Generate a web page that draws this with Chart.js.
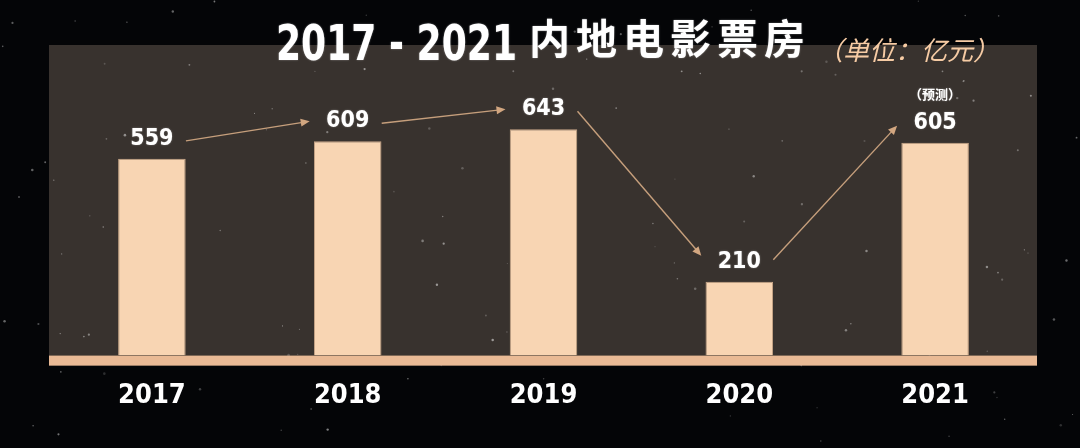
<!DOCTYPE html>
<html><head><meta charset="utf-8">
<script src="https://cdn.jsdelivr.net/npm/chart.js@4/dist/chart.umd.min.js"></script>
<style>html,body{margin:0;padding:0;background:#040507;overflow:hidden}#wrap{width:1080px;height:448px;position:relative}</style>
</head><body><div id="wrap"><canvas id="c" width="1080" height="448"></canvas></div>
<script>
const categories = ['2017', '2018', '2019', '2020', '2021'];
const boxOffice = [559, 609, 643, 210, 605];
const valueNotes = ['', '', '', '', '（预测）'];
const titleYears = '2017 - 2021';
const titleText = '内地电影票房';
const unitText = '（单位：亿元）';

const NARROW = '"Liberation Sans Narrow", "DejaVu Sans Condensed", "Noto Sans", sans-serif';
const CJK = '"Noto Sans CJK SC", "Noto Sans", sans-serif';

function starField(ctx, w, h) {
  let s = 12345;
  const rnd = () => { s = (s * 16807) % 2147483647; return s / 2147483647; };
  ctx.save();
  for (let i = 0; i < 140; i++) {
    const x = rnd() * w, y = rnd() * h, r = 0.5 + rnd() * 0.8, al = 0.15 + rnd() * 0.35;
    ctx.fillStyle = 'rgba(255,255,255,' + al.toFixed(2) + ')';
    ctx.beginPath(); ctx.arc(x, y, r, 0, Math.PI * 2); ctx.fill();
  }
  ctx.restore();
}

const backdrop = {
  id: 'backdrop',
  beforeDraw(chart) {
    const {ctx, chartArea: a, width, height} = chart;
    ctx.save();
    ctx.fillStyle = '#040507';
    ctx.fillRect(0, 0, width, height);
    const left = a.left - 5, right = a.right + 4, top = 45, bottom = a.bottom + 10;
    ctx.fillStyle = '#38322e';
    ctx.fillRect(left, top, right - left, bottom - top);
    starField(ctx, width, height);
    ctx.fillStyle = '#e9ba95';
    ctx.fillRect(left, a.bottom, right - left, 10);
    ctx.restore();
  }
};

function arrow(ctx, x1, y1, x2, y2) {
  const ang = Math.atan2(y2 - y1, x2 - x1);
  const hl = 9, hw = 4;
  ctx.beginPath();
  ctx.moveTo(x1, y1);
  ctx.lineTo(x2 - Math.cos(ang) * hl * 0.6, y2 - Math.sin(ang) * hl * 0.6);
  ctx.stroke();
  ctx.beginPath();
  ctx.moveTo(x2, y2);
  ctx.lineTo(x2 - Math.cos(ang) * hl - Math.sin(ang) * hw, y2 - Math.sin(ang) * hl + Math.cos(ang) * hw);
  ctx.lineTo(x2 - Math.cos(ang) * hl + Math.sin(ang) * hw, y2 - Math.sin(ang) * hl - Math.cos(ang) * hw);
  ctx.closePath();
  ctx.fill();
}

const annotations = {
  id: 'annotations',
  afterDatasetsDraw(chart) {
    const {ctx} = chart;
    const bars = chart.getDatasetMeta(0).data;
    ctx.save();
    const pts = bars.map(b => ({x: b.x, y: b.y - 20}));
    ctx.fillStyle = '#ffffff';
    ctx.textAlign = 'center';
    ctx.textBaseline = 'middle';
    ctx.shadowColor = 'rgba(255,255,255,0.35)';
    ctx.shadowBlur = 2;
    ctx.font = 'bold 23px ' + NARROW;
    boxOffice.forEach((v, i) => ctx.fillText(String(v), pts[i].x, pts[i].y));
    ctx.font = 'bold 13px ' + CJK;
    valueNotes.forEach((n, i) => { if (n) ctx.fillText(n, pts[i].x, pts[i].y - 29); });
    ctx.shadowBlur = 0;
    ctx.strokeStyle = '#c69f7c';
    ctx.fillStyle = '#d2a680';
    ctx.lineWidth = 1.4;
    for (let i = 0; i < pts.length - 1; i++) {
      const p = pts[i], q = pts[i + 1];
      const down = q.y > p.y + 40, up = q.y < p.y - 40;
      const y1 = p.y + (up ? -2 : 2);
      const y2 = q.y + (down ? -6 : (up ? 3 : 0));
      arrow(ctx, p.x + 34, y1, q.x - 38, y2);
    }
    ctx.restore();
  }
};

const heading = {
  id: 'heading',
  afterDraw(chart) {
    const {ctx, chartArea: a} = chart;
    ctx.save();
    ctx.fillStyle = '#ffffff';
    ctx.textBaseline = 'alphabetic';
    ctx.textAlign = 'left';
    ctx.shadowColor = 'rgba(255,255,255,0.4)';
    ctx.shadowBlur = 2;
    ctx.font = 'bold 49px ' + NARROW;
    const w1raw = ctx.measureText(titleYears).width;
    const sx = Math.min(1, 241 / w1raw);
    const w1 = w1raw * sx;
    ctx.font = 'bold 41px ' + CJK;
    ctx.letterSpacing = '6px';
    const w2 = ctx.measureText(titleText).width;
    const gap = 12;
    const total = w1 + gap + w2;
    const x0 = (a.left + a.right) / 2 - total / 2;
    ctx.save();
    ctx.translate(x0, 60);
    ctx.scale(sx, 1);
    ctx.letterSpacing = '0px';
    ctx.font = 'bold 49px ' + NARROW;
    ctx.fillText(titleYears, 0, 0);
    ctx.restore();
    ctx.font = 'bold 41px ' + CJK;
    ctx.letterSpacing = '6px';
    ctx.fillText(titleText, x0 + w1 + gap, 54);
    ctx.letterSpacing = '0px';
    ctx.shadowBlur = 0;
    ctx.fillStyle = '#f6cba4';
    ctx.font = 'italic 26px ' + CJK;
    ctx.fillText(unitText, x0 + total + 6, 60);
    ctx.restore();
  }
};

new Chart(document.getElementById('c'), {
  type: 'bar',
  data: {
    labels: categories,
    datasets: [{
      data: boxOffice,
      backgroundColor: '#f8d5b3',
      borderColor: '#c9a788',
      borderWidth: {top: 1, left: 1, right: 1, bottom: 0},
      borderSkipped: 'bottom',
      barPercentage: 0.69,
      categoryPercentage: 0.5
    }]
  },
  options: {
    responsive: false,
    animation: false,
    devicePixelRatio: 1,
    layout: {padding: {left: 54, right: 47, top: 74, bottom: 12}},
    plugins: {legend: {display: false}, tooltip: {enabled: false}, title: {display: false}},
    scales: {
      y: {display: false, min: 0, max: 800},
      x: {
        grid: {display: false, drawTicks: false},
        border: {display: false},
        ticks: {
          color: '#ffffff',
          padding: 24,
          maxRotation: 0,
          font: {family: NARROW, size: 27, weight: 'bold'}
        }
      }
    }
  },
  plugins: [backdrop, annotations, heading]
});
</script>
</body></html>
